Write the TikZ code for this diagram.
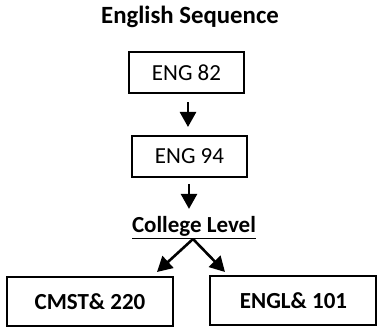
\documentclass[tikz,border=0pt]{standalone}
\usepackage{fontspec}
\setmainfont{Carlito}
\usetikzlibrary{arrows.meta, positioning}

\begin{document}
\begin{tikzpicture}[
  x=0.5pt, y=-0.5pt,
  box/.style={draw, line width=1pt, minimum width=57.5pt, minimum height=20.5pt,
              align=center, font=\fontsize{11.5}{14}\selectfont},
  bigbox/.style={box, minimum width=83pt, minimum height=24.5pt,
                 font=\fontsize{11.5}{14}\selectfont\bfseries},
  arr/.style={-{Triangle[width=8pt, length=7.5pt]}, line width=1.3pt},
]
  \useasboundingbox (0,0) rectangle (377,332);

  % Title
  \node[font=\fontsize{12.4}{15}\selectfont\bfseries] (title) at (190,17) {English Sequence};

  % Developmental courses
  \node[box] (eng82) at (186.5,73) {ENG 82};
  \node[box] (eng94) at (189.5,156.5) {ENG 94};

  % College level
  \node[font=\fontsize{11.5}{14}\selectfont\bfseries] (college) at (194,228) {\underline{College Level}};
  \coordinate (split) at (193,239);
  \coordinate (ltip) at (157,272);
  \coordinate (rtip) at (225,272);
  \node[bigbox] (cmst) at (90,301.5) {CMST\& 220};
  \node[bigbox] (engl) at (293.5,301) {ENGL\& 101};

  % Connections
  \draw[arr, shorten <=4pt, shorten >=4pt] (eng82.south -| 188,0) -- (eng94.north -| 188,0);
  \draw[arr, shorten <=3pt] (eng94.south -| 189,0) -- (college.north -| 189,0);
  \draw[arr] (split) -- (ltip);
  \draw[arr] (split) -- (rtip);
\end{tikzpicture}
\end{document}
